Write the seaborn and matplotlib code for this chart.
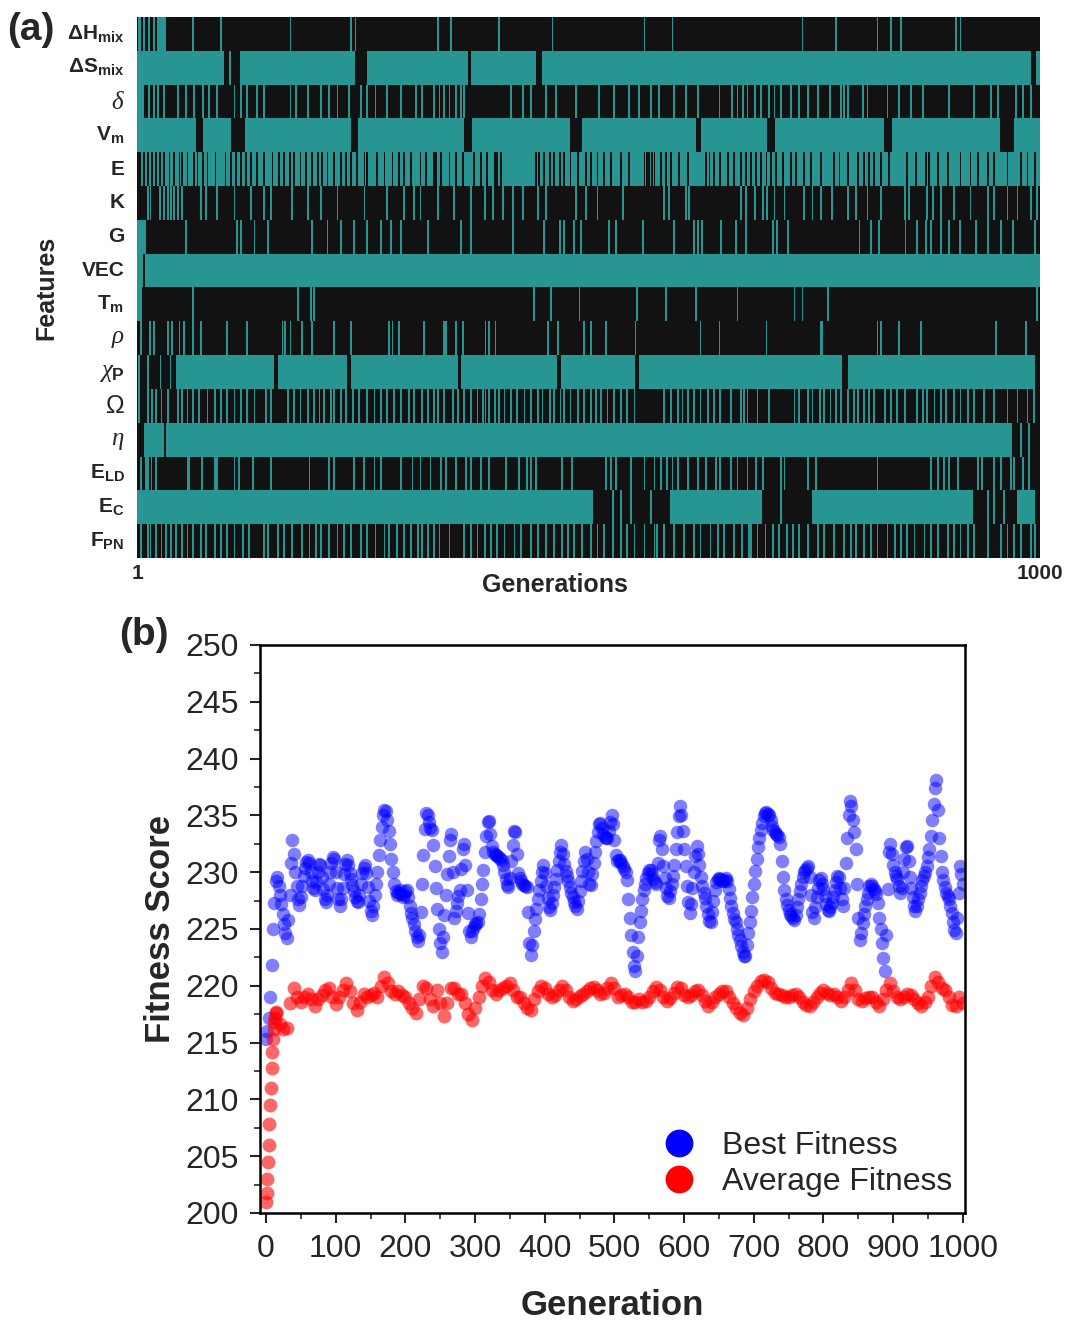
import numpy as np
import pandas as pd
import matplotlib.pyplot as plt
import seaborn as sns
from matplotlib.colors import ListedColormap
from matplotlib.lines import Line2D
from matplotlib.ticker import MultipleLocator

sns.set_style("white")
plt.rcParams['font.family'] = ['Liberation Sans', 'DejaVu Sans']
plt.rcParams['mathtext.fontset'] = 'custom'
plt.rcParams['mathtext.rm'] = 'Liberation Sans'
plt.rcParams['mathtext.bf'] = 'Liberation Sans:bold'
plt.rcParams['mathtext.it'] = 'Liberation Serif:italic'
plt.rcParams['mathtext.sf'] = 'Liberation Sans'

# ---------------- (a) feature selection over generations ----------------
n_gen = 1000
features = [r'$\mathbf{\Delta H_{mix}}$', r'$\mathbf{\Delta S_{mix}}$', r'$\delta$',
            r'$\mathbf{V_m}$', 'E', 'K', 'G', 'VEC', r'$\mathbf{T_m}$', r'$\rho$',
            r'$\chi_\mathbf{P}$', r'$\mathit{\Omega}$', r'$\eta$',
            r'$\mathbf{E_{LD}}$', r'$\mathbf{E_C}$', r'$\mathbf{F_{PN}}$']
greek_rows = [2, 9, 10, 11, 12]

# selected generations: (start, end) blocks or single generations
dHmix_on = [(2, 4), 8, 13, 19, (23, 32), 62, 93, 170, 237, 242, 333, 348, 401, 460,
            562, 593, 737, 774, 820, 835, 846, 907, 912]
dSmix_on = [(1, 96), 103, (115, 241), (256, 367), (371, 442), (450, 990), (997, 1000)]
delta_on = [(1, 8), 13, 19, 23, 30, 45, 54, 63, 73, 80, 89, 108, 115, 122, 133, 141,
            170, 176, 189, 204, 213, 222, 235, 248, 255, 264, 277, 292, 309, 316, 329,
            335, 340, 346, 353, 359, 362, 414, 427, 436, 453, 464, 486, 512, 528, 545,
            556, 569, 578, 595, 608, 621, 645, 659, 665, 671, 676, 684, 691, 700, 706,
            713, 724, 733, 743, 754, 767, 780, 783, 787, 804, 809, 831, 844, 857, 870,
            899, 927, 946, 953, 973, 981, 990]
Vm_on = [(1, 65), (74, 104), (121, 237), (246, 362), (372, 480), (494, 619),
         (626, 698), (708, 827), (837, 956), (972, 1000)]
E_on = [(1, 1000)]
E_off = [1, 3, 8, 12, 17, 21, 25, 30, 36, 41, 47, 50, 56, 63, 67, 73, 78, 87, 98, 104,
         110, 115, 121, 126, 133, 141, 150, 157, 163, 169, 174, 181, 187, 194, 200, 205,
         211, 218, 226, 231, 237, 244, 252, 255, 266, 274, 283, 290, 296, 303, 314, 320,
         329, 331, 337, 346, 353, 361, 373, 381, 388, 396, 399, 403, 442, 445, 451, 457,
         462, 468, 473, 480, 488, 497, 503, 510, 517, 525, 536, 545, 562, 565, 567, 570,
         573, 580, 586, 591, 600, 610, 630, 634, 639, 646, 654, 661, 669, 674, 680, 685,
         691, 697, 702, 708, 715, 724, 730, 739, 746, 757, 772, 778, 787, 798, 805, 811,
         816, 824, 833, 853, 863, 874, 877, 887, 898, 912, 923, 931, 942, 949, 964, 979,
         986, 994]
K_on = [12, 15, 25, 30, 34, 38, 41, 45, 50, 71, 76, 89, 108, 126, 141, 148, 172, 189, 204,
        222, 252, 277, 296, 307, 314, 333, 351, 370, 385, 394, 405, 416, 427, 444, 453,
        486, 497, 510, 538, 584, 589, 608, 611, 669, 674, 684, 693, 698, 706, 717, 739,
        748, 757, 770, 787, 796, 809, 824, 850, 855, 875, 881, 890, 905, 923, 942, 949,
        964, 975, 990, 997]
G_on = [(1, 10), 54, 111, 115, 130, 145, 194, 211, 226, 240, 255, 270, 281, 292, 322,
        359, 370, 416, 451, 468, 473, 484, 492, 523, 530, 560, 595, 617, 621, 626, 647,
        663, 674, 704, 709, 721, 800, 813, 822, 851, 864, 874, 879, 890, 899, 911, 929,
        942, 957, 970, 994]
VEC_on = [(1, 7), (10, 1000)]
Tm_on = [(1, 6), 62, 178, 193, 196, 440, 458, 490, 554, 586, 619, 665, 728, 737, 765, 997]
rho_on = [4, 14, 19, 34, 39, 47, 52, 62, 71, 100, 122, 161, 164, 170, 183, 194, 218, 237,
          279, 283, 290, 318, 340, 342, 353, 361, 386, 390, 397, 455, 466, 495, 503, 519,
          552, 624, 645, 697, 757, 759, 820, 824, 844, 868, 951, 984]
chiP_on = [2, 12, 26, 37, (44, 152), (157, 233), (238, 355), (360, 465), (471, 552),
           (557, 781), (788, 994)]
Omega_on = [2, 12, 17, 21, 27, 34, 45, 50, 56, 62, 69, 78, 86, 93, 100, 108, 115, 122,
            130, 143, 148, 167, 174, 181, 189, 196, 202, 207, 215, 218, 226, 231, 239,
            246, 255, 263, 270, 277, 285, 292, 301, 307, 316, 322, 329, 333, 340, 350,
            355, 362, 370, 377, 383, 386, 390, 396, 401, 407, 414, 421, 429, 436, 444,
            449, 457, 462, 469, 473, 480, 488, 495, 503, 508, 514, 521, 528, 536, 543,
            551, 584, 591, 599, 604, 610, 617, 624, 632, 639, 646, 658, 669, 672, 676,
            687, 700, 728, 733, 743, 748, 756, 761, 768, 774, 780, 787, 794, 798, 805,
            811, 816, 828, 835, 842, 850, 864, 870, 875, 883, 890, 896, 905, 912, 920,
            927, 938, 949, 964, 975, 986, 993]
eta_on = [(9, 30), (33, 969), 979, 988]
ELD_on = [4, 10, 12, 16, 21, 56, 58, 72, 86, 89, 108, 113, 128, 148, 191, 213, 218, 240,
          251, 263, 270, 292, 305, 314, 325, 337, 342, 353, 364, 370, 381, 390, 409, 423,
          432, 436, 442, 471, 482, 519, 525, 530, 547, 562, 573, 580, 587, 593, 599, 610,
          621, 630, 641, 646, 658, 665, 676, 685, 693, 713, 717, 743, 752, 820, 879, 887,
          894, 899, 909, 931, 936, 949, 957, 968, 971, 981, 988]
EC_on = [(1, 505), 527, 536, 547, 569, (591, 692), 713, (749, 926), 942, 949, 960,
         (975, 994)]
FPN_on = [4, 12, 15, 21, 27, 32, 38, 43, 50, 56, 62, 71, 76, 86, 93, 100, 108, 117, 124,
          141, 145, 156, 163, 172, 183, 191, 198, 204, 213, 222, 229, 237, 248, 255, 264,
          274, 279, 288, 296, 303, 311, 316, 322, 329, 335, 346, 362, 370, 377, 385, 392,
          399, 407, 418, 425, 436, 444, 453, 462, 471, 477, 484, 493, 503, 510, 517, 527,
          536, 543, 551, 562, 573, 576, 584, 595, 606, 617, 624, 635, 643, 650, 661, 670,
          678, 680, 687, 696, 704, 711, 720, 726, 733, 743, 754, 761, 772, 783, 791, 796,
          805, 813, 820, 831, 839, 846, 853, 861, 872, 879, 887, 898, 905, 912, 920, 927,
          942, 957, 964, 971, 979, 990, 994]

# ---------------- (b) fitness per generation ----------------
best_generation = list(range(0, 1001, 2))
best_fitness = [
    215.3, 216.0, 217.2, 219.0, 221.8, 225.0, 227.3, 229.2, 229.6, 228.8,
    228.0, 227.2, 226.3, 225.4, 224.6, 224.2, 225.8, 228.0, 230.8, 232.8,
    231.6, 230.0, 228.8, 227.6, 227.1, 227.8, 228.8, 229.7, 230.4, 230.9,
    231.1, 230.8, 230.0, 229.2, 228.6, 228.4, 229.1, 230.0, 230.7, 230.6,
    229.6, 228.5, 227.6, 227.4, 228.0, 229.0, 230.0, 230.8, 231.3, 231.2,
    230.0, 228.6, 227.6, 227.0, 227.6, 228.6, 229.8, 230.7, 231.1, 230.6,
    229.9, 229.4, 228.9, 228.3, 227.8, 227.5, 227.4, 228.0, 229.0, 229.9,
    230.4, 230.6, 229.9, 228.7, 227.5, 226.6, 226.2, 227.0, 228.0, 229.0,
    230.0, 231.5, 232.8, 234.0, 235.0, 235.5, 235.4, 234.6, 233.6, 232.5,
    231.2, 230.0, 229.0, 228.3, 228.0, 228.2, 228.4, 228.1, 227.8, 228.0,
    228.3, 228.4, 227.8, 227.0, 226.4, 226.0, 225.4, 224.8, 224.3, 223.9,
    224.5, 226.5, 229.0, 231.5, 233.8, 235.2, 235.0, 234.4, 233.9, 233.7,
    232.4, 230.5, 228.6, 226.8, 225.0, 223.8, 223.0, 224.3, 226.2, 228.0,
    229.8, 231.4, 232.8, 233.4, 230.0, 226.0, 226.6, 227.3, 227.9, 228.4,
    230.3, 232.0, 232.5, 230.6, 228.4, 226.4, 224.8, 224.3, 224.8, 225.2,
    225.4, 225.5, 225.6, 226.3, 227.6, 229.0, 230.2, 231.8, 233.2, 234.4,
    234.5, 233.4, 232.3, 231.8, 231.6, 231.5, 231.4, 231.3, 231.2, 231.1,
    230.6, 230.0, 229.4, 228.9, 228.7, 229.5, 231.0, 232.4, 233.6, 233.5,
    231.6, 229.9, 229.5, 229.2, 229.0, 228.9, 228.8, 228.7, 226.5, 223.8,
    222.7, 223.6, 224.8, 225.9, 226.8, 227.6, 228.4, 229.2, 230.0, 230.6,
    229.9, 228.8, 227.7, 226.9, 226.7, 227.3, 228.0, 228.7, 229.4, 230.2,
    231.0, 231.8, 232.4, 231.6, 230.7, 230.1, 229.7, 229.2, 228.7, 228.2,
    227.8, 227.4, 227.0, 226.8, 227.5, 228.3, 229.2, 230.1, 231.0, 231.8,
    231.2, 230.0, 229.0, 228.9, 229.8, 230.8, 231.8, 232.7, 233.5, 234.2,
    234.3, 233.9, 233.4, 233.1, 233.0, 233.0, 233.6, 234.4, 235.0, 234.2,
    232.8, 231.5, 231.0, 231.1, 231.1, 230.8, 230.5, 230.3, 230.0, 229.3,
    227.6, 226.0, 224.5, 223.0, 221.7, 221.3, 222.6, 224.3, 225.6, 226.6,
    227.6, 228.4, 229.0, 229.5, 229.9, 230.2, 230.2, 229.8, 229.4, 229.1,
    229.0, 230.8, 232.8, 233.2, 232.0, 230.5, 229.5, 228.6, 227.9, 227.7,
    228.3, 229.0, 229.7, 230.6, 232.0, 233.5, 234.9, 235.8, 235.0, 233.6,
    232.0, 230.5, 228.8, 227.4, 226.4, 227.2, 228.6, 230.0, 231.4, 232.3,
    231.6, 230.6, 229.6, 228.8, 228.2, 227.7, 227.0, 226.3, 225.7, 225.6,
    226.5, 227.5, 228.4, 229.1, 229.4, 229.5, 229.4, 229.2, 229.2, 229.3,
    229.5, 229.2, 228.5, 227.7, 227.0, 226.4, 225.9, 225.6, 225.0, 224.5,
    224.0, 223.5, 223.0, 222.6, 222.6, 223.6, 224.6, 225.6, 226.6, 227.8,
    229.0, 230.1, 231.2, 232.2, 233.0, 233.7, 234.3, 234.9, 235.2, 235.3,
    235.1, 235.0, 234.6, 234.1, 233.7, 233.5, 233.4, 233.3, 233.1, 232.5,
    231.0, 229.6, 228.4, 227.6, 227.1, 226.7, 226.3, 226.1, 226.0, 225.8,
    226.2, 226.9, 227.6, 228.3, 229.0, 229.6, 230.0, 230.2, 230.4, 230.5,
    229.6, 228.0, 226.5, 226.0, 226.9, 227.8, 228.6, 229.3, 229.5, 229.0,
    228.5, 227.9, 227.2, 226.7, 226.6, 226.9, 227.3, 227.8, 228.4, 229.1,
    229.7, 229.6, 228.6, 227.6, 227.0, 228.6, 230.8, 233.0, 235.0, 236.3,
    235.8, 234.6, 233.5, 232.0, 229.0, 226.0, 224.0, 224.6, 225.5, 226.3,
    227.0, 227.6, 228.2, 228.8, 229.0, 228.8, 228.5, 228.3, 228.1, 227.3,
    226.0, 225.0, 223.8, 222.4, 221.3, 224.5, 228.5, 231.8, 232.5, 231.6,
    230.6, 230.0, 229.7, 229.4, 228.8, 228.2, 228.6, 230.0, 231.2, 232.2,
    232.3, 231.0, 229.6, 228.6, 227.8, 227.0, 226.6, 227.0, 227.6, 228.2,
    228.8, 229.3, 229.7, 230.0, 230.5, 231.3, 232.0, 233.2, 234.6, 236.0,
    237.4, 238.1, 235.5, 233.0, 231.4, 230.0, 229.3, 228.7, 228.2, 227.9,
    227.6, 227.0, 226.4, 225.6, 224.9, 224.6, 226.0, 228.2, 230.5, 229.8,
    229.0]

avg_generation = list(range(0, 15)) + list(range(15, 1001, 5))
average_fitness = [
    201.0, 201.8, 203.0, 204.5, 206.0, 207.8, 209.5, 211.0, 212.8, 214.2,
    215.3, 216.2, 216.8, 217.2, 217.6,
    217.7, 216.6, 216.2, 216.3, 218.5, 219.8, 219.0,
    218.6, 219.0, 219.3, 218.8, 218.2, 218.8, 219.2, 219.6, 219.8, 219.0,
    218.4, 219.0, 219.6, 220.2, 219.5, 218.5, 217.9, 218.6, 219.3, 219.0,
    219.2, 219.4, 219.0, 220.0, 220.8, 220.2, 219.5, 219.3, 219.5, 219.2,
    219.0, 218.5, 218.0, 217.6, 218.8, 220.0, 219.8, 218.8, 218.2, 219.6,
    218.5, 217.3, 218.5, 219.8, 219.8, 219.3, 219.3, 218.5, 217.5, 217.0,
    218.0, 219.0, 220.0, 220.7, 220.3, 219.6, 219.3, 219.6, 219.8, 220.0,
    220.2, 219.6, 219.0, 219.0, 218.5, 218.0, 217.9, 218.8, 219.5, 220.0,
    219.8, 219.3, 219.0, 219.2, 219.6, 220.0, 219.6, 219.0, 218.7, 218.8,
    219.1, 219.3, 219.5, 219.8, 219.9, 219.6, 219.3, 219.4, 219.8, 220.2,
    219.8, 219.0, 219.2, 219.3, 219.0, 218.6, 218.6, 218.8, 218.6, 218.7,
    219.0, 219.5, 219.9, 219.6, 219.0, 218.7, 218.9, 219.4, 219.9, 219.8,
    219.2, 219.0, 219.2, 219.5, 219.6, 219.2, 218.7, 218.2, 218.6, 219.0,
    219.3, 219.5, 219.5, 219.0, 218.5, 218.0, 217.6, 217.4, 218.0, 218.8,
    219.5, 220.0, 220.4, 220.5, 220.3, 219.8, 219.4, 219.3, 219.2, 219.0,
    219.0, 219.2, 219.3, 219.0, 218.6, 218.3, 218.2, 218.6, 219.0, 219.4,
    219.6, 219.4, 219.2, 219.3, 219.0, 218.7, 219.0, 219.6, 220.2, 219.6,
    218.8, 218.7, 218.9, 219.0, 219.0, 218.6, 218.2, 218.8, 219.6, 220.2,
    219.5, 219.0, 218.8, 219.0, 219.3, 219.2, 218.8, 218.5, 218.2, 218.6,
    219.0, 220.0, 220.8, 220.3, 219.8, 219.6, 219.0, 218.3, 218.2, 219.0,
    218.5]


def build_row(on, off=()):
    row = np.zeros(n_gen)
    for item in on:
        a, b = item if isinstance(item, tuple) else (item, item + 1)
        row[a - 1:b] = 1
    for g in off:
        row[g - 1:g + 1] = 0
    return row


rows = [build_row(dHmix_on), build_row(dSmix_on), build_row(delta_on), build_row(Vm_on),
        build_row(E_on, E_off), build_row(K_on), build_row(G_on), build_row(VEC_on),
        build_row(Tm_on), build_row(rho_on), build_row(chiP_on), build_row(Omega_on),
        build_row(eta_on), build_row(ELD_on), build_row(EC_on), build_row(FPN_on)]
sel = pd.DataFrame(np.vstack(rows), index=features, columns=range(1, n_gen + 1))

teal = '#279592'
fig = plt.figure(figsize=(10.73, 13.2), dpi=100)

# panel (a)
ax1 = fig.add_axes([0.1277, 0.5773, 0.8416, 0.4098])
sns.heatmap(sel, cmap=ListedColormap(['#121212', teal]), cbar=False, ax=ax1,
            xticklabels=False, yticklabels=True, rasterized=True)
ax1.set_xticks([0, n_gen])
ax1.set_xticklabels(['1', '1000'], fontsize=15, fontweight='bold')
ax1.set_yticks(np.arange(len(features)) + 0.5)
ax1.set_yticklabels(features, fontsize=15, fontweight='bold', rotation=0)
for i, lab in enumerate(ax1.get_yticklabels()):
    if i in greek_rows:
        lab.set_fontsize(18)
ax1.tick_params(length=0, pad=4)
ax1.tick_params(axis='y', pad=9)
ax1.set_xlabel('Generations', fontsize=18, fontweight='bold', labelpad=-8)
ax1.xaxis.set_label_coords(0.463, -0.028)
ax1.set_ylabel('Features', fontsize=18, fontweight='bold', labelpad=6)
fig.text(0.007, 0.977, '(a)', fontsize=28, fontweight='bold', va='center')

# panel (b)
ax2 = fig.add_axes([0.2423, 0.0811, 0.657, 0.4303])
sns.scatterplot(x=best_generation, y=best_fitness, color='#0000ff', alpha=0.5, s=95,
                linewidth=0, ax=ax2, legend=False)
sns.scatterplot(x=avg_generation, y=average_fitness, color='#ff0000', alpha=0.6, s=100,
                linewidth=0, ax=ax2, legend=False)
ax2.set_xlim(-8.6, 1003)
ax2.set_ylim(200, 250)
ax2.set_xticks(range(0, 1001, 100))
ax2.set_yticks(range(200, 251, 5))
ax2.xaxis.set_minor_locator(MultipleLocator(50))
ax2.yaxis.set_minor_locator(MultipleLocator(2.5))
ax2.tick_params(which='major', direction='out', length=7, width=1.5, labelsize=23,
                bottom=True, left=True)
ax2.tick_params(axis='x', which='major', pad=8)
ax2.tick_params(axis='y', which='major', pad=8)
ax2.tick_params(which='minor', direction='out', length=4, width=1.2, bottom=True, left=True)
for sp in ax2.spines.values():
    sp.set_visible(True)
    sp.set_color('black')
    sp.set_linewidth(1.8)
ax2.set_xlabel('Generation', fontsize=25, fontweight='bold', labelpad=18)
ax2.set_ylabel('Fitness Score', fontsize=25, fontweight='bold', labelpad=6)
handles = [Line2D([], [], marker='o', linestyle='none', markersize=20, color='#0000ff',
                  markeredgewidth=0, label='Best Fitness'),
           Line2D([], [], marker='o', linestyle='none', markersize=20, color='#ff0000',
                  markeredgewidth=0, label='Average Fitness')]
ax2.legend(handles=handles, loc='lower right', frameon=False, fontsize=23,
           handletextpad=0.35, labelspacing=0.2, borderaxespad=0.0,
           bbox_to_anchor=(1.0, 0.005))
fig.text(0.111, 0.519, '(b)', fontsize=28, fontweight='bold', va='center')

plt.savefig('out.png', dpi=100)
plt.close()
